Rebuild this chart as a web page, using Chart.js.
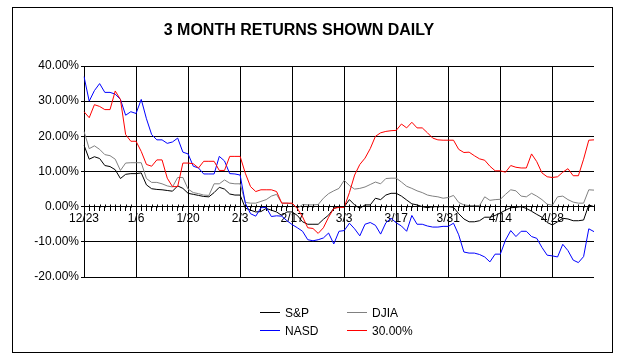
<!DOCTYPE html>
<html>
<head>
<meta charset="utf-8">
<script src="https://cdn.jsdelivr.net/npm/chart.js@4.4.1/dist/chart.umd.min.js"></script>
<style>
  body { margin: 0; background: #fff; }
  canvas { display: block; }
</style>
</head>
<body>
<canvas id="myChart" width="624" height="363"></canvas>
<script>
// trading days (weekdays) 12/23 - 5/8
var dates = [
  "12/23","12/24","12/25","12/26","12/27","12/30","12/31","1/1","1/2","1/3",
  "1/6","1/7","1/8","1/9","1/10","1/13","1/14","1/15","1/16","1/17",
  "1/20","1/21","1/22","1/23","1/24","1/27","1/28","1/29","1/30","1/31",
  "2/3","2/4","2/5","2/6","2/7","2/10","2/11","2/12","2/13","2/14",
  "2/17","2/18","2/19","2/20","2/21","2/24","2/25","2/26","2/27","2/28",
  "3/3","3/4","3/5","3/6","3/7","3/10","3/11","3/12","3/13","3/14",
  "3/17","3/18","3/19","3/20","3/21","3/24","3/25","3/26","3/27","3/28",
  "3/31","4/1","4/2","4/3","4/4","4/7","4/8","4/9","4/10","4/11",
  "4/14","4/15","4/16","4/17","4/18","4/21","4/22","4/23","4/24","4/25",
  "4/28","4/29","4/30","5/1","5/2","5/5","5/6","5/7","5/8"
];

var sp = [
  17.5,13.5,14.2,13.7,11.7,11.4,10.5,8,9.2,9.4,
  9.4,9.6,6.2,5.1,4.9,4.8,4.6,4.4,5.9,5.2,
  3.8,3.5,3.2,2.9,2.8,4,5.5,5,3.6,3.3,
  3.3,-0.4,-1,-1.5,-1.4,-0.5,-1,-1.5,-2.5,-1.5,
  -1.5,-2.5,-4.3,-5,-5,-5,-3.6,-2.4,-0.5,0,
  0,2,0.5,-0.5,0.5,0.5,2.4,2,3.3,3.8,
  3.8,3,1.9,0.8,0.5,0,-0.3,0,0,0,
  0,-0.2,-2,-3.5,-4.3,-4.3,-4,-3,-3,-2.5,
  -1.8,-1,-0.3,-0.2,0,-0.5,-1.3,-2.2,-3,-4.5,
  -5.2,-4.3,-3.3,-3.5,-4,-4,-3.8,0.5,0
];

var djia = [
  21.4,16.5,17.3,16.3,14.8,14.5,13.5,10.3,12.4,12.5,
  12.5,12.5,8,6.9,6.9,6.5,5.9,5.6,8.3,8.3,
  5,4,3.7,3.3,3.2,6.5,6.5,7.6,6.7,6.5,
  6.5,1.2,1,1,1.5,2,3,3.5,1,1,
  0.8,-0.5,0.6,0.5,0.5,0.6,2.4,3.7,4.5,5.2,
  7.5,6,5,5.2,5.6,6.3,7,6.5,8,8.1,
  8.1,7,5.8,5.2,4.5,4,3.3,3,2.8,2.4,
  2.6,3.2,1.2,0.5,0.3,0.3,0.3,2.8,1.8,2,
  2.1,3.5,4.8,4.5,3,2.8,3.8,3,2,0.7,
  0.4,2.8,3,2,1.3,1,1,4.8,4.7
];

var nasd = [
  37,30,33,35,32.5,32.5,32,30.5,26,27,
  26.5,30.5,25,20.5,19,19,18,18.4,19.5,15.5,
  15,11.5,11,9.3,9.3,9.3,14.3,13,9.4,9.3,
  9,1,-2,-2.7,-0.3,-0.2,-2.8,-2.6,-2.7,-4,
  -5.1,-6,-7,-9.4,-9.7,-9.4,-8.9,-7.5,-10.6,-7,
  -6.8,-4.7,-6.3,-8.3,-5,-4.5,-5.3,-7.8,-4.6,-3.3,
  -4.6,-5.5,-7,-2.5,-5,-5,-5.5,-5.8,-5.8,-5.6,
  -5.6,-4.7,-8,-12.9,-13.2,-13.2,-13.6,-14.3,-15.7,-13.5,
  -13.5,-9.5,-6.8,-8.5,-7,-7,-8.5,-9,-11.6,-13.8,
  -14,-14.3,-10.7,-12.5,-15.2,-15.9,-14.2,-6.3,-7.1
];

var pct30 = [
  27,25.3,29,28.5,27.6,27.6,32.9,30.5,20.5,18.6,
  18.6,15.7,12,11.5,13.3,13.3,8.1,5.7,5.7,12.4,
  12.4,12.2,11,12.9,12.9,12.9,10.3,10.3,14.3,14.3,
  14.3,9.5,5.7,4.3,4.8,4.8,4.8,4.3,1,1,
  1,-0.5,-2.9,-6,-6.2,-7.6,-6,-3,-0.5,-0.2,
  -0.2,4,9,12,13.8,16.5,20,21,21.4,21.6,
  21.7,23.5,22.4,24,22.4,22.4,21,19.5,19,18.9,
  18.9,18.9,16.3,15.4,15.5,14.5,13.6,13.2,11.5,10.2,
  10.2,9.8,11.7,11.2,11,11,15,12.8,9.6,8.5,
  8.3,8.5,9.8,10.8,8.8,8.8,13.5,18.9,19
];

var seriesNames = ["S&P", "DJIA", "NASD", "30.00%"];
var seriesColors = ["#000000", "#808080", "#0000ff", "#ff0000"];
var yTicks = [-20, -10, 0, 10, 20, 30, 40];

var FONT = "'Liberation Sans', Arial, sans-serif";

// title, frame, little ticks above the zero line, legend
var decor = {
  id: 'decor',
  afterDraw: function(chart) {
    var ctx = chart.ctx;
    var xs = chart.scales.x;
    var y0 = Math.round(chart.scales.y.getPixelForValue(0)) + 0.5;
    ctx.save();
    ctx.strokeStyle = '#000';
    ctx.lineWidth = 1;
    ctx.strokeRect(12.5, 7.5, 600, 345);
    ctx.beginPath();
    for (var i = 0; i < dates.length; i++) {
      var px = Math.round(xs.getPixelForTick(i)) + 0.5;
      ctx.moveTo(px, y0 - 3);
      ctx.lineTo(px, y0);
    }
    ctx.stroke();
    ctx.fillStyle = '#000';
    ctx.font = 'bold 16px ' + FONT;
    ctx.textAlign = 'center';
    ctx.textBaseline = 'middle';
    ctx.fillText('3 MONTH RETURNS SHOWN DAILY', 299, 31);
    ctx.font = '12px ' + FONT;
    ctx.textAlign = 'left';
    var ds = chart.data.datasets;
    for (var k = 0; k < ds.length; k++) {
      var lx = k % 2 === 0 ? 260 : 347;
      var ly = 312.5 + Math.floor(k / 2) * 18;
      ctx.strokeStyle = ds[k].borderColor;
      ctx.beginPath();
      ctx.moveTo(lx, ly);
      ctx.lineTo(lx + 20, ly);
      ctx.stroke();
      ctx.fillStyle = '#000';
      ctx.fillText(ds[k].label, lx + 25, ly + 1);
    }
    ctx.restore();
  }
};

function makeSet(i, values) {
  return {
    label: seriesNames[i],
    data: values,
    borderColor: seriesColors[i],
    backgroundColor: seriesColors[i],
    borderWidth: 1,
    pointRadius: 0,
    tension: 0,
    fill: false,
    order: 4 - i
  };
}

var ctx = document.getElementById('myChart').getContext('2d');
var chart = new Chart(ctx, {
  type: 'line',
  data: {
    labels: dates,
    datasets: [makeSet(0, sp), makeSet(1, djia), makeSet(2, nasd), makeSet(3, pct30)]
  },
  plugins: [decor],
  options: {
    responsive: false,
    animation: false,
    events: [],
    devicePixelRatio: 1,
    layout: { padding: { top: 66, bottom: 86, left: 0, right: 30 } },
    plugins: {
      legend: { display: false },
      title: { display: false },
      tooltip: { enabled: false }
    },
    scales: {
      x: {
        type: 'category',
        position: { y: 0 },
        offset: false,
        border: { display: true, color: '#000', width: 1 },
        grid: {
          color: function(c) { return c.index % 10 === 0 ? '#000' : 'rgba(0,0,0,0)'; },
          tickColor: '#000',
          tickLength: 4,
          lineWidth: 1,
          offset: false
        },
        ticks: {
          autoSkip: false,
          maxRotation: 0,
          minRotation: 0,
          padding: 1,
          color: '#000',
          font: { family: FONT, size: 12 },
          callback: function(v, i) { return i % 10 === 0 ? dates[i] : ''; }
        }
      },
      y: {
        min: yTicks[0],
        max: yTicks[yTicks.length - 1],
        afterFit: function(s) { s.width = 84; },
        afterBuildTicks: function(s) { s.ticks = yTicks.map(function(v) { return { value: v }; }); },
        border: { display: true, color: '#000', width: 1 },
        grid: { color: '#000', tickColor: '#000', tickLength: 3, lineWidth: 1 },
        ticks: {
          padding: 2,
          color: '#000',
          font: { family: FONT, size: 12 },
          callback: function(v) { return v.toFixed(2) + '%'; }
        }
      }
    }
  }
});
</script>
</body>
</html>
